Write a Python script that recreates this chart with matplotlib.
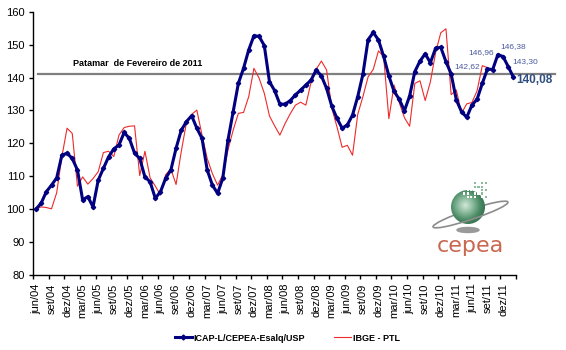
import numpy as np
import matplotlib.pyplot as plt
from matplotlib.patches import Circle, Ellipse, Arc, Rectangle
from matplotlib.colors import LinearSegmentedColormap
from matplotlib.lines import Line2D

plt.rcParams['font.family'] = ['Liberation Sans', 'DejaVu Sans']

# ICAP-L/CEPEA-Esalq/USP, monthly, jun/04 .. fev/12
icap = [100.0, 101.8, 105.3, 107.3, 109.5, 116.4, 117.0, 115.4, 111.9, 102.8,
        103.8, 100.7, 108.8, 112.4, 115.9, 118.3, 119.5, 123.3, 121.5, 117.0,
        115.4, 109.8, 108.3, 103.3, 105.3, 109.4, 111.9, 118.5, 124.0, 126.6,
        128.4, 124.6, 121.5, 111.9, 107.3, 104.8, 109.4, 121.0, 129.6, 138.2,
        142.8, 148.4, 152.7, 152.5, 149.7, 138.7, 136.0, 131.9, 131.9, 133.0,
        134.7, 136.2, 137.7, 139.2, 142.3, 140.5, 136.7, 131.3, 127.6, 124.6,
        125.6, 128.6, 134.2, 141.0, 151.5, 153.7, 151.4, 146.4, 140.5, 135.8,
        133.4, 129.9, 134.4, 141.8, 145.0, 147.2, 144.5, 148.9, 149.2, 144.8,
        141.1, 133.2, 129.6, 127.9, 131.6, 133.4, 138.2, 142.62, 142.4, 146.96,
        146.38, 143.30, 140.08]

# IBGE - PTL, monthly, jun/04 .. set/11
ibge = [100.0, 100.7, 100.5, 100.1, 105.0, 116.0, 124.6, 123.0, 107.0, 109.8,
        107.6, 109.3, 111.4, 117.2, 117.6, 116.0, 122.5, 124.8, 125.2, 125.3,
        110.2, 117.6, 109.5, 107.0, 104.3, 110.5, 112.2, 107.5, 117.5, 126.3,
        128.8, 130.1, 122.5, 115.4, 110.8, 107.3, 110.4, 118.0, 124.0, 129.1,
        129.4, 134.2, 142.8, 139.8, 135.2, 128.3, 125.3, 122.5, 126.0, 129.0,
        131.6, 132.5, 131.6, 138.5, 142.5, 145.0, 142.3, 130.8, 125.0, 118.8,
        119.4, 116.4, 128.8, 134.2, 140.2, 142.5, 148.1, 146.3, 127.5, 137.7,
        132.4, 127.8, 125.2, 138.2, 139.0, 133.0, 138.7, 147.5, 153.6, 154.8,
        134.8, 136.2, 129.1, 132.0, 132.4, 136.0, 143.6, 143.0]

tick_labels = ['jun/04', 'set/04', 'dez/04', 'mar/05', 'jun/05', 'set/05', 'dez/05',
               'mar/06', 'jun/06', 'set/06', 'dez/06', 'mar/07', 'jun/07', 'set/07',
               'dez/07', 'mar/08', 'jun/08', 'set/08', 'dez/08', 'mar/09', 'jun/09',
               'set/09', 'dez/09', 'mar/10', 'jun/10', 'set/10', 'dez/10', 'mar/11',
               'jun/11', 'set/11', 'dez/11']

label_idx = [87, 89, 90, 91, 92]   # points with value labels
patamar_idx = 80                   # fev/11

fig = plt.figure(figsize=(5.66, 3.5), dpi=100)
ax = fig.add_axes([0.0589, 0.2143, 0.8528, 0.7523])

x1 = np.arange(len(icap))
x2 = np.arange(len(ibge))
ax.plot(x2, ibge, color='#EE2A2A', lw=0.8, zorder=2)
ax.plot(x1, icap, color='#000080', lw=2.2, marker='D', ms=2.2, zorder=3)

ax.set_xlim(-0.5, len(icap) - 0.5)
ax.set_ylim(80, 160)
ax.set_yticks(range(80, 161, 10))
ax.tick_params(axis='y', length=3, width=1, pad=3, labelsize=8)

ax.set_xticks(np.arange(-0.5, len(icap), 3))
ax.set_xticklabels([])
ax.set_xticks(np.arange(0, 3 * len(tick_labels), 3), minor=True)
ax.set_xticklabels(tick_labels, minor=True, rotation=90, fontsize=8)
ax.tick_params(axis='x', which='major', length=3, width=1)
ax.tick_params(axis='x', which='minor', length=0, pad=6)

for s in ['top', 'right']:
    ax.spines[s].set_visible(False)
for s in ['left', 'bottom']:
    ax.spines[s].set_linewidth(1)

# patamar de fevereiro de 2011
ax.axhline(icap[patamar_idx], xmin=0.01, xmax=1.081, color='#7f7f7f', lw=1.6,
           clip_on=False, zorder=1)
ax.text(0.082, 0.805, 'Patamar  de Fevereiro de 2011', transform=ax.transAxes,
        fontsize=6.5, fontweight='bold', va='center')

# value labels
offsets = [(-20, 2), (-17, 2), (10, 10), (17, 5), (21, -3)]
for k, (i, off) in enumerate(zip(label_idx, offsets)):
    txt = f'{icap[i]:.2f}'.replace('.', ',')
    last = k == len(label_idx) - 1
    ax.annotate(txt, (i, icap[i]), xytext=off, textcoords='offset pixels',
                ha='center', va='center', annotation_clip=False,
                fontsize=8.5 if last else 6,
                fontweight='bold' if last else 'normal',
                color='#2F4F80' if last else '#4A5A9E')

# legend
handles = [Line2D([], [], color='#000080', lw=2.2, marker='D', ms=2.5),
           Line2D([], [], color='#EE2A2A', lw=0.8)]
fig.legend(handles, ['ICAP-L/CEPEA-Esalq/USP', 'IBGE - PTL'], loc='center',
           bbox_to_anchor=(0.508, 0.034), ncol=2, frameon=False,
           prop={'size': 6.5, 'weight': 'bold'}, handlelength=1.9,
           handletextpad=0.2, columnspacing=3.2)

# CEPEA logo
lax = fig.add_axes([425 / 566, 1 - 255 / 350, 90 / 566, 80 / 350])
cx, cy, R = 43, 48, 17
lax.add_patch(Arc((45.5, 40.5), 79, 10, angle=18.4, theta1=0, theta2=180,
                  color='#8c8c8c', lw=1.2, zorder=1))
yy, xx = np.mgrid[-1:1:200j, -1:1:200j]
r = np.sqrt((xx + 0.15) ** 2 + (yy - 0.1) ** 2)
cmap = LinearSegmentedColormap.from_list('g', ['#d4e8da', '#8cbc9e', '#4a8a64', '#2f6a4a'])
im = lax.imshow(r, cmap=cmap, extent=(cx - R, cx + R, cy - R, cy + R),
                origin='lower', vmin=0, vmax=1.3, zorder=2)
circ = Circle((cx, cy), R, transform=lax.transData, fc='none', ec='none')
lax.add_patch(circ)
im.set_clip_path(circ)
for i in range(7):
    for j in range(5):
        if (i * 3 + j * 2) % 4 == 0 or i < j - 1:
            continue
        px, py = 38 + i * 3.6, 57 + j * 3.4
        inside = (px - cx) ** 2 + (py - cy) ** 2 < R ** 2
        lax.add_patch(Rectangle((px, py), 2.2, 2.2, lw=0,
                                fc='white' if inside else '#8cbc9e', zorder=4))
lax.add_patch(Arc((45.5, 40.5), 79, 10, angle=18.4, theta1=180, theta2=360,
                  color='#8c8c8c', lw=1.2, zorder=5))
lax.add_patch(Ellipse((43, 25), 22, 5, color='#9a9a9a', zorder=2))
lax.text(45, 9, 'cepea', ha='center', va='center', fontsize=16,
         color='#C9674F', family='DejaVu Sans')
lax.set_xlim(0, 90)
lax.set_ylim(0, 80)
lax.set_aspect('auto')
lax.axis('off')

fig.savefig('out.png', dpi=100)
